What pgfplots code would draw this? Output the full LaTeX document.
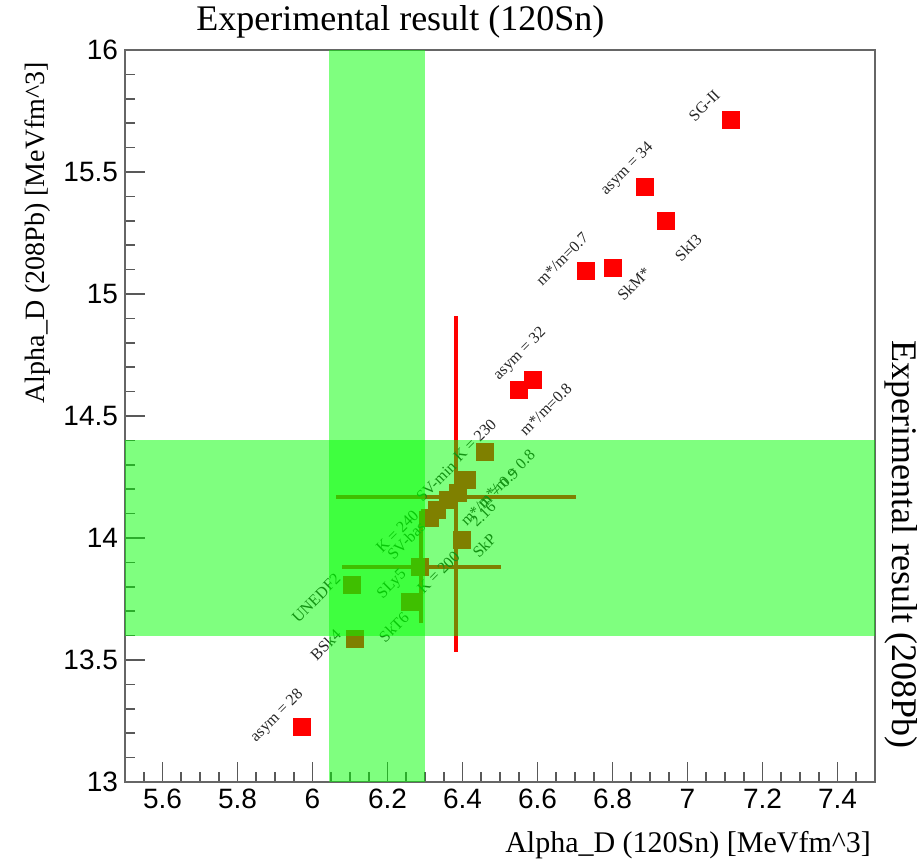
\documentclass[border=0pt]{standalone}
\usepackage{pgfplots}
\pgfplotsset{compat=1.18}
\usepackage{fontspec}
\setmainfont{Liberation Serif}
\newfontfamily\sansf{Liberation Sans}
\tikzset{lbl/.style={rotate=45, font=\fontsize{8}{8}\selectfont, text=black!85, inner sep=0pt}}
\begin{document}
\begin{tikzpicture}
\begin{axis}[name=ax,
 scale only axis, width=375pt, height=366pt,
 xmin=5.5, xmax=7.5, ymin=13, ymax=16,
 xtick={5.6,5.8,6,6.2,6.4,6.6,6.8,7,7.2,7.4},
 ytick={13,13.5,14,14.5,15,15.5,16},
 minor xtick={5.55,5.65,5.7,5.75,5.85,5.9,5.95,6.05,6.1,6.15,6.25,6.3,6.35,6.45,6.5,6.55,6.65,6.7,6.75,6.85,6.9,6.95,7.05,7.1,7.15,7.25,7.3,7.35,7.45},
 minor y tick num=4,
 xtick pos=bottom, ytick pos=left, tick align=inside,
 major tick length=10pt, minor tick length=5pt,
 axis line style={black!60, line width=1pt},
 every tick/.style={black!65, line width=0.8pt},
 tick label style={font=\sansf\fontsize{14}{16}\selectfont},
 /pgf/number format/assume math mode=true,
 clip=false, clip marker paths=true,
]
% error bars
\addplot[draw=none, mark=none, forget plot,
  error bars/.cd, x dir=both, y dir=both, x explicit, y explicit,
  error mark=none, error bar style={red, line width=2pt}]
  coordinates {
  (6.383,14.168) += (0.32,0.742) -= (0.32,0.635)
  (6.290,13.881) +- (0.212,0.23)
  };
% model points
\addplot[only marks, mark=square*, mark size=4.2pt, red, mark options={draw=red, fill=red}]
  coordinates {
  (7.116,15.713) (6.887,15.439) (6.943,15.300) (6.729,15.094) (6.801,15.107)
  (6.588,14.648) (6.551,14.607) (5.972,13.225)
  (6.460,14.352) (6.412,14.238) (6.388,14.184) (6.361,14.156) (6.332,14.115)
  (6.313,14.082) (6.399,13.992) (6.287,13.881) (6.260,13.738) (6.105,13.807)
  (6.113,13.586)
  };
% labels
\node[lbl] at (axis cs:7.045,15.772) {SG-II};
\node[lbl] at (axis cs:6.840,15.512) {asym = 34};
\node[lbl] at (axis cs:7.002,15.190) {SkI3};
\node[lbl] at (axis cs:6.666,15.143) {m*/m=0.7};
\node[lbl] at (axis cs:6.857,15.040) {SkM*};
\node[lbl] at (axis cs:6.554,14.754) {asym = 32};
\node[lbl] at (axis cs:6.622,14.527) {m*/m=0.8};
\node[lbl] at (axis cs:5.906,13.270) {asym = 28};
\node[lbl] at (axis cs:6.035,13.563) {BSk4};
\node[lbl] at (axis cs:6.010,13.754) {UNEDF2};
\node[lbl] at (axis cs:6.217,13.635) {SkT6};
\node[lbl] at (axis cs:6.213,13.809) {SLy5};
\node[lbl] at (axis cs:6.458,13.968) {SkP};
\node[lbl] at (axis cs:6.336,13.858) {K = 200};
\node[lbl] at (axis cs:6.226,14.027) {K = 240};
\node[lbl] at (axis cs:6.250,13.990) {SV-bas};
\node[lbl] at (axis cs:6.330,14.232) {SV-min};
\node[lbl] at (axis cs:6.433,14.400) {K = 230};
\node[lbl] at (axis cs:6.516,14.243) {m*/m = 0.8};
\node[lbl] at (axis cs:6.472,14.168) {m*/m = 0.9};
\node[lbl] at (axis cs:6.455,14.097) {2.16};
% experimental bands
\addplot[draw=none, fill=green, fill opacity=0.5, forget plot]
  coordinates {(5.5,13.6) (7.5,13.6) (7.5,14.4) (5.5,14.4)} -- cycle;
\addplot[draw=none, fill=green, fill opacity=0.5, forget plot]
  coordinates {(6.045,13) (6.30,13) (6.30,16) (6.045,16)} -- cycle;
% titles
\node[font=\fontsize{18}{20}\selectfont, anchor=center] at ([yshift=14pt]rel axis cs:0.367,1) {Experimental result (120Sn)};
\node[font=\fontsize{18}{20}\selectfont, anchor=center, rotate=-90] at ([xshift=13pt]rel axis cs:1,0.324) {Experimental result (208Pb)};
\node[font=\fontsize{15}{17}\selectfont, anchor=east] at ([xshift=1.5pt,yshift=-31.5pt]rel axis cs:1,0) {Alpha\_D (120Sn) [MeVfm\textasciicircum 3]};
\node[font=\fontsize{14}{16}\selectfont, anchor=east, rotate=90] at ([xshift=-43.5pt,yshift=-2.5pt]rel axis cs:0,1) {Alpha\_D (208Pb) [MeVfm\textasciicircum 3]};
\end{axis}
\pgfresetboundingbox
\path[use as bounding box] ([xshift=-62.5pt,yshift=-40pt]ax.south west) rectangle ([xshift=22.5pt,yshift=25pt]ax.north east);
\end{tikzpicture}
\end{document}
